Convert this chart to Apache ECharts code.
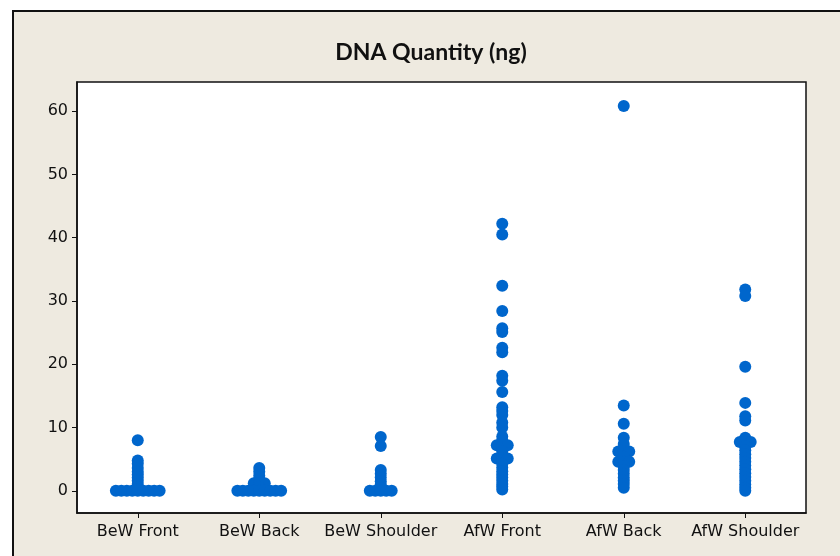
<!DOCTYPE html>
<html>
<head>
<meta charset="utf-8">
<title>DNA Quantity (ng)</title>
<script src="https://cdn.jsdelivr.net/npm/echarts@6/dist/echarts.min.js"></script>
<style>
  html, body { margin: 0; padding: 0; background: #fff; }
  #chart { width: 840px; height: 556px; }
</style>
</head>
<body>
<div id="chart"></div>
<script>
// categories and tick labels
const groups = ['BeW Front', 'BeW Back', 'BeW Shoulder', 'AfW Front', 'AfW Back', 'AfW Shoulder'];
const yTicks = [0, 10, 20, 30, 40, 50, 60];

// DNA quantity (ng) per group
const bewFront = [8.0, 4.8, 4.3, 3.6, 3.0, 2.6, 2.1, 1.6, 1.1, 0.6, 0.3, 0, 0, 0, 0, 0, 0, 0, 0, 0];
const bewBack = [3.6, 3.0, 2.4, 1.8, 1.2, 1.2, 1.2, 0.6, 0, 0, 0, 0, 0, 0, 0, 0, 0];
const bewShoulder = [8.5, 7.1, 3.3, 2.7, 2.1, 1.5, 1.0, 0.5, 0, 0, 0, 0, 0];
const afwFront = [42.2, 40.5, 32.4, 28.4, 25.7, 25.1, 22.6, 21.9, 18.2, 17.4, 15.6, 13.2, 12.6, 12.0,
    10.8, 10.0, 8.6, 7.9, 7.2, 7.2, 7.2, 6.2, 5.1, 5.1, 5.1, 4.3, 3.7, 3.1, 2.6, 2.1, 1.6, 1.1, 0.7, 0.2];
const afwBack = [60.8, 13.5, 10.6, 8.4, 7.4, 6.2, 6.2, 6.2, 5.4, 4.6, 4.6, 4.6, 3.9, 3.3, 2.7, 2.1, 1.6, 1.1, 0.5];
const afwShoulder = [31.8, 30.8, 19.6, 13.9, 11.8, 11.1, 8.4, 7.7, 7.7, 7.7, 7.0, 6.4, 5.8, 5.2, 4.6,
    4.0, 3.4, 2.8, 2.2, 1.6, 1.0, 0.5, 0];

const groupValues = [bewFront, bewBack, bewShoulder, afwFront, afwBack, afwShoulder];

// equal values in a group are spread side by side (individual value plot)
const jitterStep = 0.045;
function spread(values, idx) {
    const counts = {};
    values.forEach(v => { counts[v] = (counts[v] || 0) + 1; });
    const seen = {};
    return values.map(v => {
        const n = counts[v];
        const k = seen[v] || 0;
        seen[v] = k + 1;
        return [idx + (k - (n - 1) / 2) * jitterStep, v];
    });
}

let points = [];
groupValues.forEach((vals, i) => { points = points.concat(spread(vals, i)); });

const chart = echarts.init(document.getElementById('chart'));
const option = {
    animation: false,
    backgroundColor: '#ffffff',
    graphic: {
        elements: [{
            type: 'rect',
            z: -100,
            shape: { x: 13, y: 11, width: 840, height: 560 },
            style: { fill: '#EEEAE0', stroke: '#111', lineWidth: 2 }
        }]
    },
    title: {
        text: 'DNA Quantity (ng)',
        left: 426,
        top: 36,
        textAlign: 'center',
        textStyle: { fontFamily: 'Lato', fontWeight: 'bold', fontSize: 23, color: '#111' }
    },
    grid: {
        left: 77, top: 82, right: 34, bottom: 43,
        show: true,
        backgroundColor: '#ffffff',
        borderColor: '#111',
        borderWidth: 1.5
    },
    xAxis: [
        {
            type: 'category',
            data: groups,
            boundaryGap: true,
            axisLine: { show: true, onZero: false, lineStyle: { color: '#111', width: 1.5 } },
            axisTick: { show: true, alignWithLabel: true, interval: 0, length: 5, lineStyle: { color: '#111' } },
            axisLabel: { color: '#111', fontFamily: 'DejaVu Sans', fontSize: 16, margin: 11, interval: 0 },
            splitLine: { show: false }
        },
        {
            type: 'value',
            min: -0.5,
            max: 5.5,
            show: false
        }
    ],
    yAxis: {
        type: 'value',
        min: -3.5,
        max: 64.6,
        axisLine: { show: true, onZero: false, lineStyle: { color: '#111', width: 1.5 } },
        axisTick: { show: true, length: 5, customValues: yTicks, lineStyle: { color: '#111' } },
        axisLabel: { color: '#111', fontFamily: 'DejaVu Sans', fontSize: 16, margin: 9, customValues: yTicks },
        splitLine: { show: false }
    },
    series: [{
        type: 'scatter',
        xAxisIndex: 1,
        data: points,
        symbol: 'circle',
        symbolSize: 12,
        itemStyle: { color: '#0066CC', opacity: 1 }
    }]
};
chart.setOption(option);
window.addEventListener('resize', () => chart.resize());
</script>
</body>
</html>
